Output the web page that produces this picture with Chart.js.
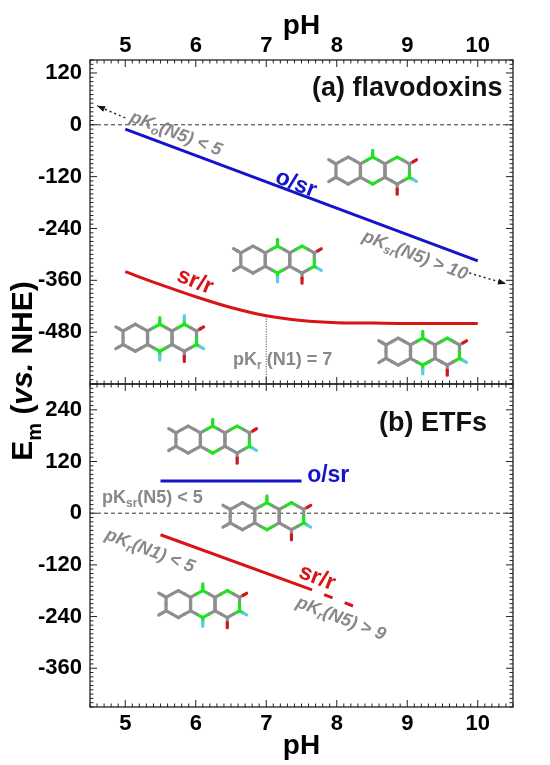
<!DOCTYPE html>
<html>
<head>
<meta charset="utf-8">
<script src="https://cdn.jsdelivr.net/npm/chart.js@4.4.0/dist/chart.umd.min.js"></script>
<style>
  html, body { margin: 0; padding: 0; background: #fff; }
  #wrap { position: relative; width: 550px; height: 765px; }
  canvas { position: absolute; left: 0; top: 0; }
</style>
</head>
<body>
<div id="wrap">
  <canvas id="topChart" width="550" height="765"></canvas>
  <canvas id="botChart" width="550" height="765"></canvas>
</div>
<script>
// tick labels
const phTicks = [5, 6, 7, 8, 9, 10];
const emTicksA = [120, 0, -120, -240, -360, -480];
const emTicksB = [240, 120, 0, -120, -240, -360];

// (a) flavodoxins
const flavOsrPH = [5, 10];
const flavOsrEm = [-10, -315];
const flavSrrPH = [5, 5.5, 6, 6.5, 7, 7.5, 8, 8.5, 9, 10];
const flavSrrEm = [-340, -370, -398, -423, -442, -453, -458, -459, -460, -460];
const flavArrowLoPH = [5.0, 4.6];
const flavArrowLoEm = [16, 44];
const flavArrowHiPH = [9.88, 10.4];
const flavArrowHiEm = [-343, -368];
const pKrLinePH = [7, 7];
const pKrLineEm = [-443, -600];

// (b) ETFs
const etfOsrPH = [5.5, 7.5];
const etfOsrEm = [75, 75];
const etfSrrPH = [5.5, 7.65];
const etfSrrEm = [-50, -178];
const etfSrrDashPH = [7.65, 8.3];
const etfSrrDashEm = [-178, -220];

const zeroPH = [4.5, 10.5];
const zeroEm = [0, 0];

const FONT = '"Liberation Sans", Arial, Helvetica, sans-serif';
const BLUE = '#1414c8';
const RED = '#d81414';
const GREY = '#888888';

const pts = (xs, ys) => xs.map((x, i) => ({ x: x, y: ys[i] }));

function richText(ctx, parts, x, y, o) {
  const size = o.size;
  const fontFor = p => (p.italic || o.italic ? 'italic ' : '') + (o.bold === false ? '' : 'bold ') +
    Math.round(p.sub ? size * 0.68 : size) + 'px ' + FONT;
  ctx.save();
  ctx.translate(x, y);
  ctx.rotate((o.angle || 0) * Math.PI / 180);
  ctx.fillStyle = o.color;
  ctx.textBaseline = o.baseline || 'middle';
  let total = 0;
  parts.forEach(p => { ctx.font = fontFor(p); total += ctx.measureText(p.t).width; });
  let cx = o.align === 'right' ? -total : o.align === 'left' ? 0 : -total / 2;
  parts.forEach(p => {
    ctx.font = fontFor(p);
    ctx.textAlign = 'left';
    ctx.fillText(p.t, cx, p.sub ? size * 0.3 : 0);
    cx += ctx.measureText(p.t).width;
  });
  ctx.restore();
}

// stick drawing of the isoalloxazine ring
function drawFlavin(ctx, cx, cy, m) {
  const s = 13.5, w = 24.5;
  const C = '#8e8e8e', N = '#22e022', H = '#5ccbea', O = '#d01818';
  const hex = (x, y) => [[x, y - s], [x + w / 2, y - s / 2], [x + w / 2, y + s / 2], [x, y + s], [x - w / 2, y + s / 2], [x - w / 2, y - s / 2]];
  const L = hex(cx - w, cy), M = hex(cx, cy), R = hex(cx + w, cy);
  const col = (ring, i) => {
    if (ring === M && (i === 0 || i === 3)) return N;
    if (ring === R && (i === 0 || i === 2)) return N;
    return C;
  };
  ctx.save();
  ctx.lineWidth = 3.2;
  ctx.lineCap = 'round';
  const half = (a, b, c) => {
    ctx.strokeStyle = c;
    ctx.beginPath(); ctx.moveTo(a[0], a[1]); ctx.lineTo((a[0] + b[0]) / 2, (a[1] + b[1]) / 2); ctx.stroke();
  };
  [L, M, R].forEach(ring => {
    for (let i = 0; i < 6; i++) {
      const a = ring[i], b = ring[(i + 1) % 6];
      half(a, b, col(ring, i));
      half(b, a, col(ring, (i + 1) % 6));
    }
  });
  const stub = (p, dx, dy, len, c1, c2) => {
    const e = [p[0] + dx * len, p[1] + dy * len];
    half(p, e, c1);
    half(e, p, c2);
  };
  const c30 = Math.cos(Math.PI / 6), s30 = 0.5;
  stub(L[5], -c30, -s30, 0.62 * s, C, C);
  stub(L[4], -c30, s30, 0.62 * s, C, C);
  stub(M[0], 0, -1, 0.5 * s, N, N);
  if (m.h10) stub(M[3], 0, 1, 0.65 * s, N, H);
  if (m.h1) stub(R[0], 0, -1, 0.65 * s, N, H);
  stub(R[1], c30, -s30, 0.6 * s, C, O);
  stub(R[2], c30, s30, 0.6 * s, N, H);
  stub(R[3], 0, 1, 0.75 * s, C, O);
  ctx.restore();
}

const decorPlugin = {
  id: 'decor',
  afterDatasetsDraw(chart, args, opts) {
    const ctx = chart.ctx;
    const xs = chart.scales.x, ys = chart.scales.y;
    const a = chart.chartArea;

    // arrow heads on dotted guides
    chart.data.datasets.forEach((ds, i) => {
      if (!ds.arrowHead) return;
      const pts = chart.getDatasetMeta(i).data;
      const p1 = pts[pts.length - 2], p2 = pts[pts.length - 1];
      const ang = Math.atan2(p2.y - p1.y, p2.x - p1.x);
      ctx.save();
      ctx.translate(p2.x, p2.y);
      ctx.rotate(ang);
      ctx.fillStyle = '#111';
      ctx.beginPath();
      ctx.moveTo(0, 0); ctx.lineTo(-8, -3); ctx.lineTo(-8, 3); ctx.closePath();
      ctx.fill();
      ctx.restore();
    });

    (opts.mols || []).forEach(m => {
      drawFlavin(ctx, xs.getPixelForValue(m.ph), ys.getPixelForValue(m.em), m);
    });

    (opts.texts || []).forEach(t => {
      richText(ctx, t.parts, xs.getPixelForValue(t.ph), ys.getPixelForValue(t.em), t);
    });

    // frame with inward minor/major ticks
    ctx.save();
    ctx.strokeStyle = '#222';
    ctx.lineWidth = 1.3;
    ctx.strokeRect(a.left, a.top, a.right - a.left, a.bottom - a.top);
    ctx.lineWidth = 1;
    ctx.beginPath();
    for (let k = 45; k <= 105; k++) {
      const x = xs.getPixelForValue(k / 10);
      const len = k % 10 === 0 ? 7 : 3.5;
      ctx.moveTo(x, a.top); ctx.lineTo(x, a.top + len);
      ctx.moveTo(x, a.bottom); ctx.lineTo(x, a.bottom - len);
    }
    for (let v = ys.min; v <= ys.max; v += 10) {
      const y = ys.getPixelForValue(v);
      const len = v % 120 === 0 ? 7 : 3.5;
      ctx.moveTo(a.left, y); ctx.lineTo(a.left + len, y);
      ctx.moveTo(a.right, y); ctx.lineTo(a.right - len, y);
    }
    ctx.stroke();
    ctx.restore();

    if (opts.yTitle) {
      richText(ctx, [{ t: 'E' }, { t: 'm', sub: true }, { t: ' (' }, { t: 'vs.', italic: true }, { t: ' NHE)' }],
        32, 371, { size: 30, color: '#000', angle: -90, align: 'center', baseline: 'alphabetic' });
    }
  }
};

const tickFont = { family: FONT, size: 22, weight: 'bold' };
const titleFont = { family: FONT, size: 28, weight: 'bold' };

function lineSet(xs, ys, color, width, extra) {
  return Object.assign({
    data: pts(xs, ys), borderColor: color, borderWidth: width,
    pointRadius: 0, fill: false, tension: 0
  }, extra || {});
}

function makeOptions(cfg) {
  return {
    responsive: false,
    animation: false,
    layout: { padding: cfg.padding },
    plugins: { legend: { display: false }, tooltip: { enabled: false }, decor: cfg.decor },
    scales: {
      x: {
        type: 'linear', position: cfg.xPos, min: 4.5, max: 10.5,
        afterBuildTicks: s => { s.ticks = phTicks.map(v => ({ value: v })); },
        afterFit: s => { s.height = cfg.xHeight; },
        grid: { display: false, drawTicks: false, tickLength: 0 },
        border: { display: false },
        ticks: { font: tickFont, color: '#000', padding: cfg.xPad, maxRotation: 0, autoSkip: false },
        title: { display: true, text: 'pH', font: titleFont, color: '#000', padding: cfg.titlePad }
      },
      y: {
        type: 'linear', min: cfg.yMin, max: cfg.yMax,
        afterBuildTicks: s => { s.ticks = cfg.yTicks.map(v => ({ value: v })); },
        afterFit: s => { s.width = 90; },
        grid: { display: false, drawTicks: false, tickLength: 0 },
        border: { display: false },
        ticks: { font: tickFont, color: '#000', padding: 8, autoSkip: false }
      }
    }
  };
}

new Chart(document.getElementById('topChart'), {
  type: 'line',
  data: {
    datasets: [
      lineSet(zeroPH, zeroEm, '#333', 1, { borderDash: [4, 3] }),
      lineSet(pKrLinePH, pKrLineEm, '#333', 1, { borderDash: [1, 1.5] }),
      lineSet(flavArrowLoPH, flavArrowLoEm, '#222', 1.5, { borderDash: [2, 3], arrowHead: true }),
      lineSet(flavArrowHiPH, flavArrowHiEm, '#222', 1.5, { borderDash: [2, 3], arrowHead: true }),
      lineSet(flavOsrPH, flavOsrEm, BLUE, 3),
      lineSet(flavSrrPH, flavSrrEm, RED, 3, { cubicInterpolationMode: 'monotone' })
    ]
  },
  options: makeOptions({
    padding: { top: 0, left: 0, right: 37, bottom: 381 },
    xPos: 'top', xHeight: 60, xPad: 1, titlePad: { top: 9, bottom: 0 },
    yMin: -600, yMax: 150, yTicks: emTicksA,
    decor: {
      yTitle: true,
      mols: [
        { ph: 8.51, em: -106 },
        { ph: 7.16, em: -312, h10: true },
        { ph: 5.49, em: -493, h10: true, h1: true },
        { ph: 9.22, em: -525, h10: true }
      ],
      texts: [
        { ph: 10.35, em: 85, parts: [{ t: '(a) flavodoxins' }], size: 27, color: '#111', align: 'right' },
        { ph: 5.72, em: -21, parts: [{ t: 'pK' }, { t: 'o', sub: true }, { t: '(N5) < 5' }], size: 18, color: GREY, italic: true, angle: 21 },
        { ph: 7.42, em: -137, parts: [{ t: 'o/sr' }], size: 23, color: BLUE, angle: 21 },
        { ph: 9.11, em: -303, parts: [{ t: 'pK' }, { t: 'sr', sub: true }, { t: '(N5) > 10' }], size: 18, color: GREY, italic: true, angle: 21 },
        { ph: 5.99, em: -363, parts: [{ t: 'sr/r' }], size: 23, color: RED, angle: 22 },
        { ph: 6.53, em: -544, parts: [{ t: 'pK' }, { t: 'r', sub: true }, { t: ' (N1) = 7' }], size: 18, color: GREY, align: 'left' }
      ]
    }
  }),
  plugins: [decorPlugin]
});

new Chart(document.getElementById('botChart'), {
  type: 'line',
  data: {
    datasets: [
      lineSet(zeroPH, zeroEm, '#333', 1, { borderDash: [4, 3] }),
      lineSet(etfOsrPH, etfOsrEm, BLUE, 3),
      lineSet(etfSrrPH, etfSrrEm, RED, 3),
      lineSet(etfSrrDashPH, etfSrrDashEm, RED, 3, { borderDash: [9, 13], borderDashOffset: 9 })
    ]
  },
  options: makeOptions({
    padding: { top: 384, left: 0, right: 37, bottom: 0 },
    xPos: 'bottom', xHeight: 58, xPad: 4, titlePad: { top: 0, bottom: 2 },
    yMin: -450, yMax: 300, yTicks: emTicksB,
    decor: {
      mols: [
        { ph: 6.24, em: 171 },
        { ph: 7.01, em: -7 },
        { ph: 6.10, em: -211, h10: true }
      ],
      texts: [
        { ph: 10.13, em: 208, parts: [{ t: '(b) ETFs' }], size: 27, color: '#111', align: 'right' },
        { ph: 7.58, em: 88, parts: [{ t: 'o/sr' }], size: 23, color: BLUE, align: 'left' },
        { ph: 4.67, em: 35, parts: [{ t: 'pK' }, { t: 'sr', sub: true }, { t: '(N5) < 5' }], size: 18, color: GREY, align: 'left' },
        { ph: 5.35, em: -88, parts: [{ t: 'pK' }, { t: 'r', sub: true }, { t: '(N1) < 5' }], size: 18, color: GREY, italic: true, angle: 21 },
        { ph: 7.72, em: -150, parts: [{ t: 'sr/r' }], size: 23, color: RED, angle: 21 },
        { ph: 8.06, em: -245, parts: [{ t: 'pK' }, { t: 'r', sub: true }, { t: '(N5) > 9' }], size: 18, color: GREY, italic: true, angle: 21 }
      ]
    }
  }),
  plugins: [decorPlugin]
});
</script>
</body>
</html>
